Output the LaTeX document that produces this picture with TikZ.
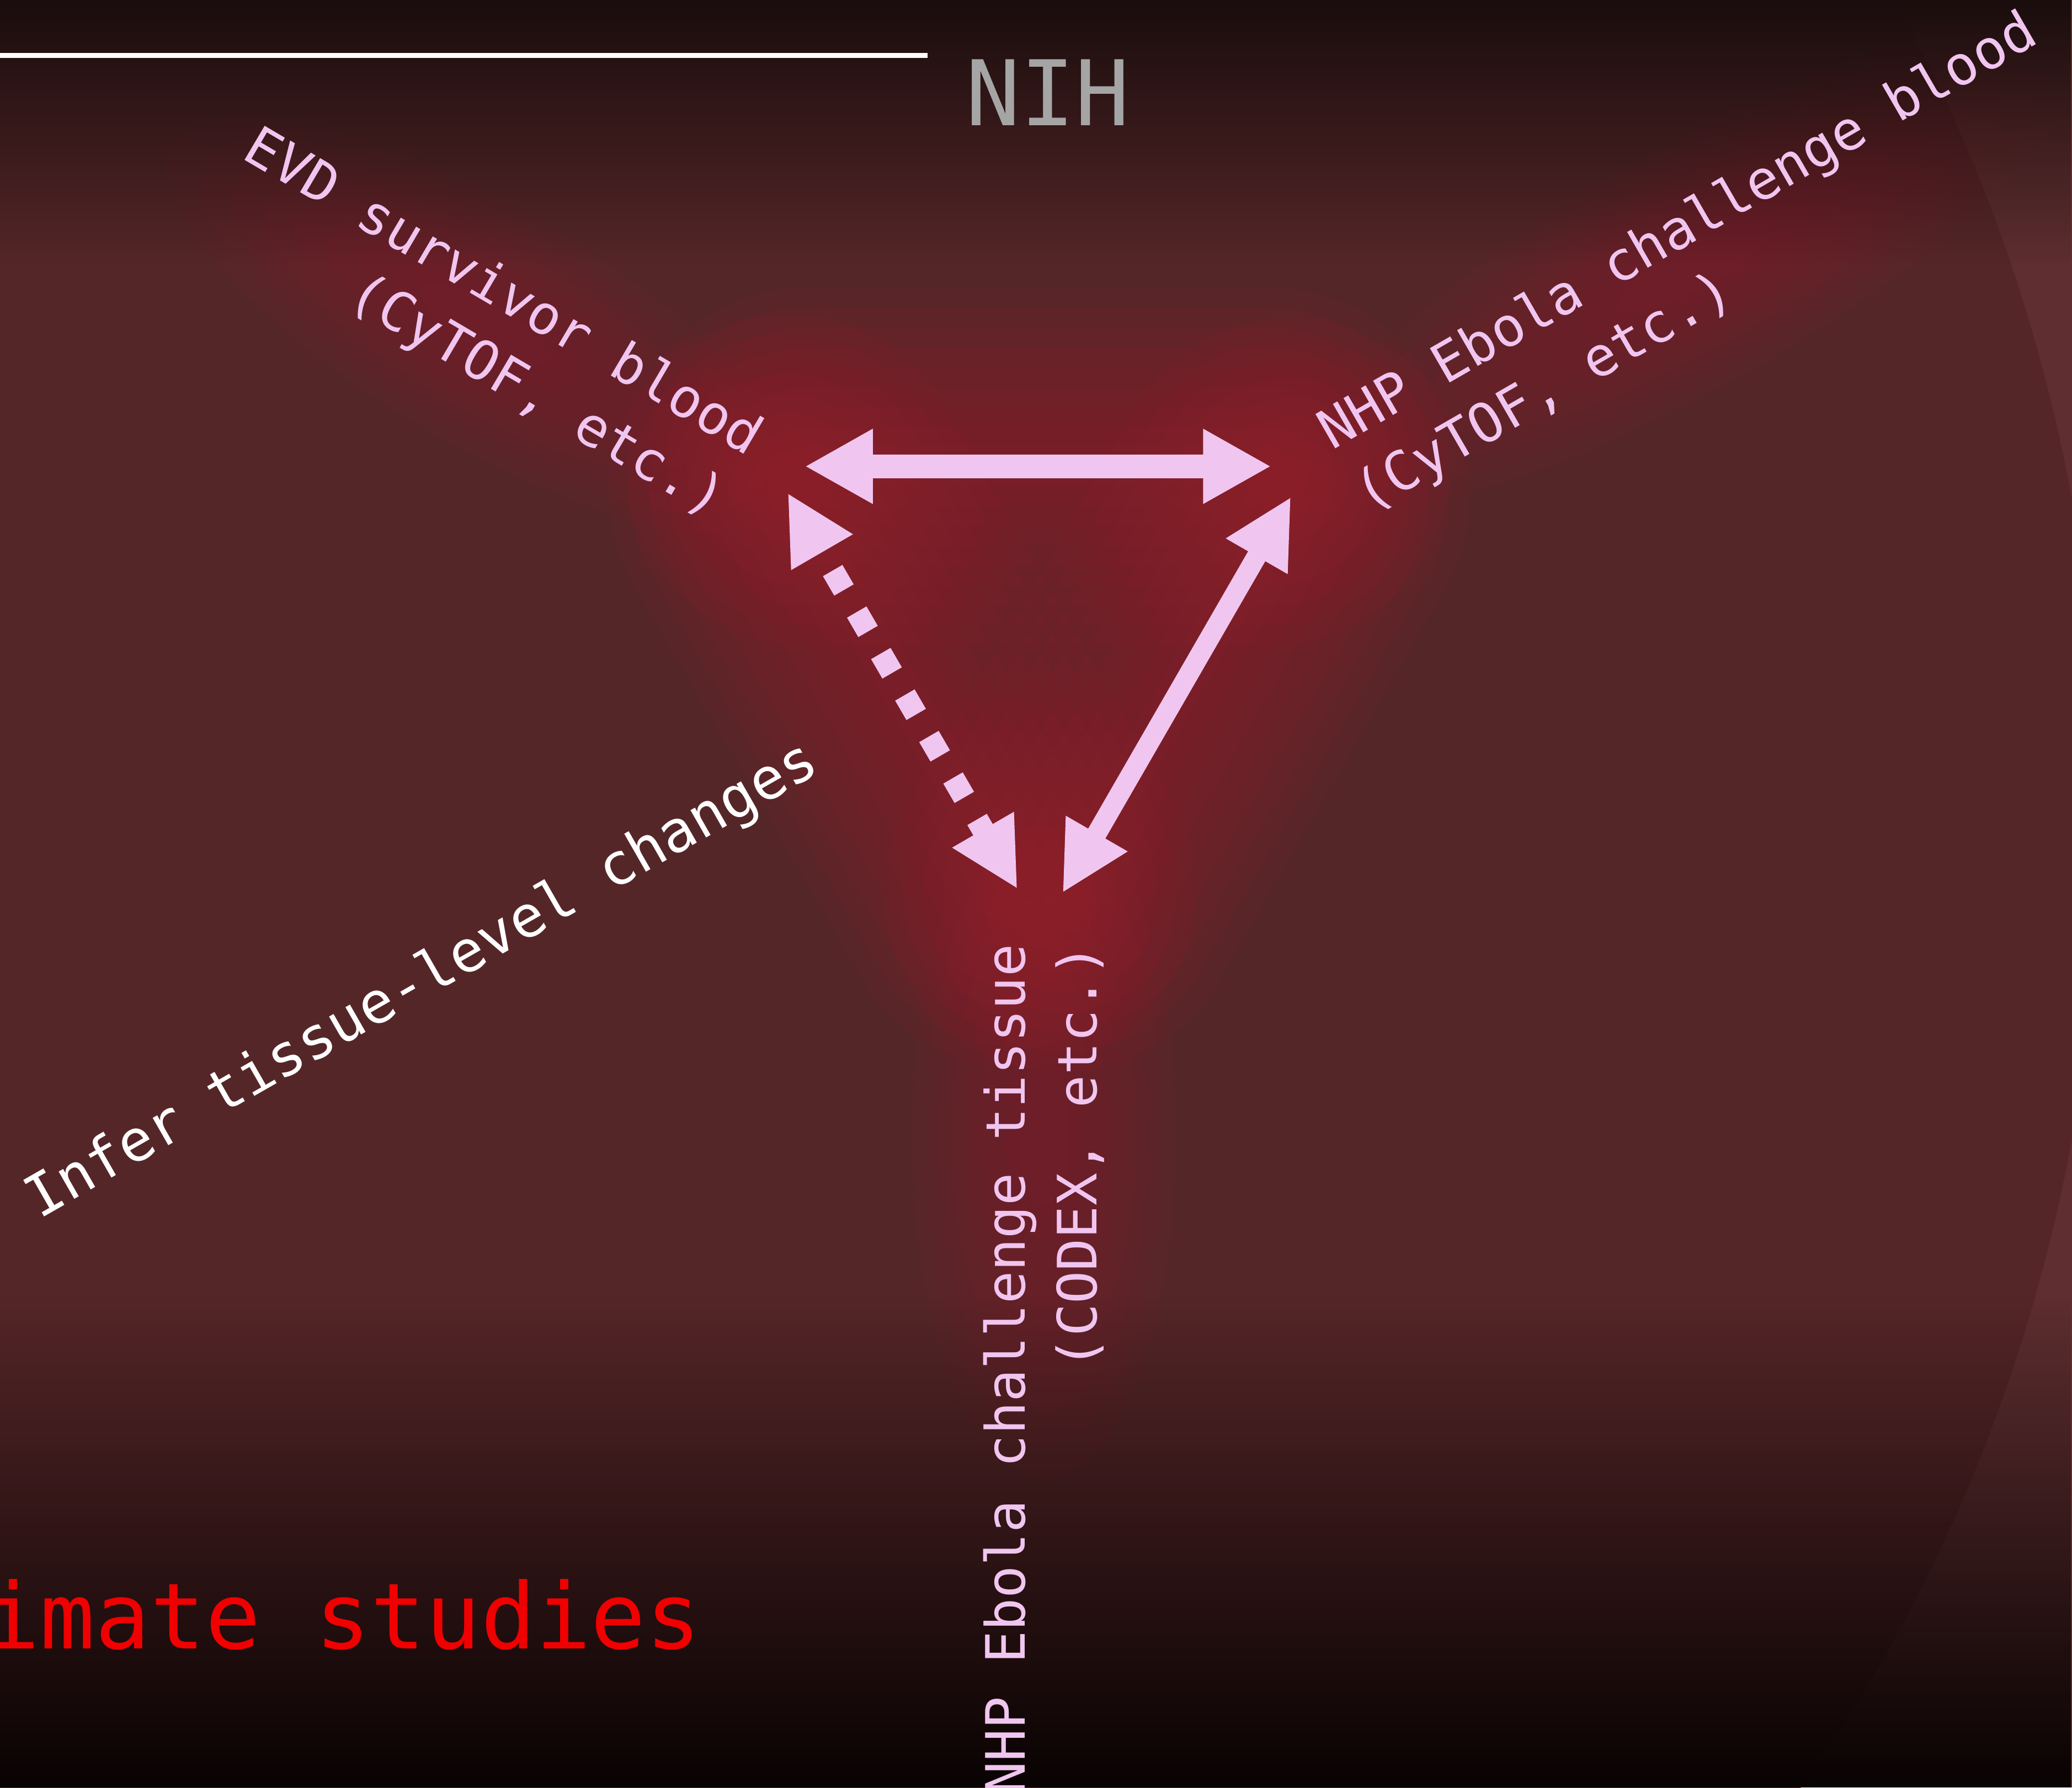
\documentclass[tikz,border=0pt]{standalone}
\usepackage{fontspec}
\usepackage{tikz}
\usetikzlibrary{arrows.meta,fadings}
\newfontfamily\monofont{DejaVu Sans Mono}
\definecolor{bgout}{HTML}{5E2E30}
\definecolor{bgin}{HTML}{552628}
\definecolor{bgtop}{HTML}{1A0D0D}
\definecolor{bgbot}{HTML}{090303}
\definecolor{rglow}{HTML}{A01E2E}
\definecolor{lpink}{HTML}{F0C6F0}
\definecolor{ngray}{HTML}{A5A5A5}
\definecolor{tred}{HTML}{F00000}
\tikzfading[name=topfade,top color=transparent!0,bottom color=transparent!100]
\tikzfading[name=botfade,top color=transparent!100,bottom color=transparent!0]
\pgfdeclarelayer{back}
\pgfsetlayers{back,main}
\tikzset{
 lbl/.style={font=\monofont\fontsize{11.7}{15.5}\selectfont,text=lpink,inner sep=0pt},
 wlbl/.style={lbl,text=white,font=\monofont\fontsize{12.4}{15}\selectfont},
 bigarrow/.style={{Triangle[length=5.15mm,width=5.3mm]}-{Triangle[length=5.15mm,width=5.3mm]},line width=1.8mm,draw=lpink},
 thinarrow/.style={{Triangle[length=5.2mm,width=5mm]}-{Triangle[length=5.2mm,width=5mm]},line width=1.5mm,draw=lpink},
 dotarrow/.style={thinarrow,line width=1.7mm,dash pattern=on 1.7mm off 1.93mm,dash phase=1.7mm},
 glowline/.style={draw=rglow,line cap=round,opacity=0.08},
 glowspot/.style={fill=rglow,opacity=0.05}
}

\begin{document}
\begin{tikzpicture}[x=0.1mm,y=-0.1mm]
 \useasboundingbox (0,0) rectangle (1568,1353);
 \clip (0,0) rectangle (1568,1353);
 % labels
 \node[lbl,rotate=-30.5,align=right] (evd) at (366,246) {EVD survivor blood\\(CyTOF, etc.)};
 \node[lbl,rotate=30,align=left] (nhpblood) at (1284,200) {NHP Ebola challenge blood\\(CyTOF, etc.)};
 \node[lbl,rotate=90,align=right,anchor=east] (nhptissue) at (790,714) {NHP Ebola challenge tissue\\(CODEX, etc.)};
 \node[wlbl,rotate=29.8] (infer) at (320,743) {Infer tissue-level changes};
 \node[font=\monofont\fontsize{19.5}{22}\selectfont,text=ngray,inner sep=0pt] (nih) at (793,70) {NIH};
 \node[font=\monofont\fontsize{19.7}{22}\selectfont,text=tred,inner sep=0pt,anchor=base west] (studies) at (-12,1248) {imate studies};
 % arrow ends
 \coordinate (evdtip) at (609,353);
 \coordinate (bloodtip) at (962,353);
 \coordinate (bloodlow) at (977,376);
 \coordinate (tissuer) at (804,676);
 \coordinate (evdlow) at (596,373);
 \coordinate (tissuel) at (770,673);
 \coordinate (tissueglow) at (790,860);
 \coordinate (rulel) at (0,42);
 \coordinate (ruler) at (702,42);
 \begin{pgfonlayer}{back}
  \fill[bgout] (0,0) rectangle (1568,1353);
  \fill[bgin] (600,620) ellipse (99mm and 115mm);
  \foreach \s in {2,...,10}{
   \fill[glowspot,rotate around={-30.5:(evd.center)}] (evd.center) ellipse ({\s*2.7mm} and {\s*0.9mm});
   \fill[glowspot,rotate around={30:(nhpblood.center)}] (nhpblood.center) ellipse ({\s*3.3mm} and {\s*0.9mm});
   \fill[glowspot] (tissueglow) ellipse ({\s*1mm} and {\s*2.6mm});
  }
  \foreach \w in {3,6,...,27}{
   \draw[glowline,line width=\w mm] (evdtip)--(bloodtip);
   \draw[glowline,line width=\w mm] (bloodlow)--(tissuer);
   \draw[glowline,line width=\w mm] (evdlow)--(tissuel);
  }
  \fill[bgtop,path fading=topfade] (0,0) rectangle (1568,200);
  \fill[bgbot,path fading=botfade] (0,980) rectangle (1568,1353);
 \end{pgfonlayer}
 \draw[white,line width=0.4mm] (rulel)--(ruler);
 \draw[bigarrow] (evdtip)--(bloodtip);
 \draw[thinarrow] (bloodlow)--(tissuer);
 \draw[dotarrow] (evdlow)--(tissuel);
\end{tikzpicture}
\end{document}
